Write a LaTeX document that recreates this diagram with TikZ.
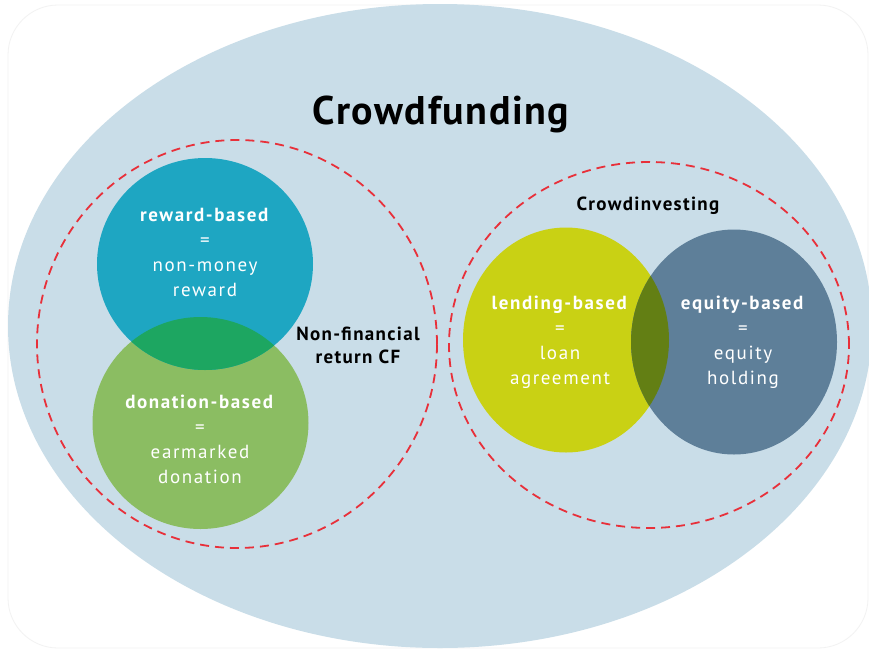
\documentclass[tikz,border=0pt]{standalone}
\usepackage{fontspec}
\setmainfont{PT Sans}
\newfontfamily\titlefont[LetterSpace=4]{PT Sans}
\newfontfamily\labelfont[LetterSpace=7]{PT Sans}
\newfontfamily\circfont[LetterSpace=8.5]{PT Sans}
\definecolor{bgblue}{HTML}{C9DDE8}
\definecolor{teal}{HTML}{1EA6C2}
\definecolor{leaf}{HTML}{8BBD62}
\definecolor{overA}{HTML}{1DA661}
\definecolor{lime}{HTML}{C9D114}
\definecolor{slate}{HTML}{5E7F99}
\definecolor{overB}{HTML}{637F14}
\definecolor{dashred}{HTML}{E8303A}
\definecolor{frame}{HTML}{F2F2F2}
\tikzset{
  groupring/.style={draw=dashred, line width=1.8pt, dash pattern=on 9pt off 6pt},
  whitetext/.style={text=white, align=center, font=\circfont\fontsize{19}{25}\selectfont, inner sep=0pt},
  blacktext/.style={text=black, align=center, inner sep=0pt},
}
\begin{document}
\begin{tikzpicture}[x=1pt,y=-1pt]
\useasboundingbox (0,0) rectangle (869,651);
\fill[white] (0,0) rectangle (869,651);
\draw[frame, line width=0.8pt, rounded corners=50pt] (8,5) rectangle (868,648);
% big ellipse
\fill[bgblue] (440,326) ellipse [x radius=432pt, y radius=322pt];
% left group
\fill[leaf] (200.5,423) ellipse [x radius=108pt, y radius=106pt];
\fill[teal] (205,264) ellipse [x radius=108pt, y radius=106pt];
\begin{scope}
  \clip (205,264) ellipse [x radius=108pt, y radius=106pt];
  \fill[overA] (200.5,423) ellipse [x radius=108pt, y radius=106pt];
\end{scope}
% right group
\fill[lime] (566,340) ellipse [x radius=103pt, y radius=112.5pt];
\fill[slate] (734,342) ellipse [x radius=103pt, y radius=112.5pt];
\begin{scope}
  \clip (566,340) ellipse [x radius=103pt, y radius=112.5pt];
  \fill[overB] (734,342) ellipse [x radius=103pt, y radius=112.5pt];
\end{scope}
% dashed rings
\draw[groupring] (237,344) ellipse [x radius=200pt, y radius=204pt];
\draw[groupring] (649,345) ellipse [x radius=200pt, y radius=183pt];
% texts
\node[blacktext, font=\titlefont\fontsize{40}{40}\selectfont\bfseries] (title) at (441,114) {Crowdfunding};
\node[blacktext, font=\labelfont\fontsize{19}{19}\selectfont\bfseries] (ci) at (648,206) {Crowdinvesting};
\node[blacktext, font=\labelfont\fontsize{19}{23}\selectfont\bfseries] (nf) at (358,345) {Non-financial\\return CF};
\node[whitetext] (reward) at (205,252) {\textbf{reward-based}\\=\\non-money\\reward};
\node[whitetext] (donation) at (200,439) {\textbf{donation-based}\\=\\earmarked\\donation};
\node[whitetext] (lending) at (560,342) {\textbf{lending-based}\\=\\loan\\agreement};
\node[whitetext] (equity) at (743,342) {\textbf{equity-based}\\=\\equity\\holding};
\end{tikzpicture}
\end{document}
